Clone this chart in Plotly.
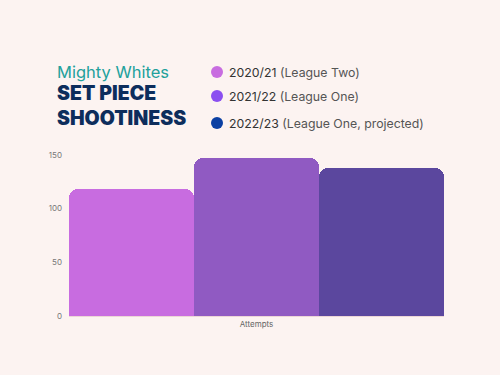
import plotly.graph_objects as go

categories = ["Attempts"]
series_names = ["2020/21 (League Two)", "2021/22 (League One)", "2022/23 (League One, projected)"]
series_values = [[118], [147], [138]]
bar_colors = ["#c86ce0", "#905ac2", "#5b479e"]
legend_colors = ["#c86ce0", "#8b4ff0", "#0b40a3"]
y_ticks = [0, 50, 100, 150]

bg = "#fcf3f1"

fig = go.Figure()
for name, vals, col in zip(series_names, series_values, bar_colors):
    fig.add_trace(go.Bar(x=categories, y=vals, name=name, marker=dict(color=col, line=dict(width=0)),
                         showlegend=False, hoverinfo="skip"))

fig.update_layout(
    width=500, height=375,
    paper_bgcolor=bg, plot_bgcolor=bg,
    margin=dict(l=69, r=56, t=155, b=59),
    barmode="group", bargap=0, bargroupgap=0,
    barcornerradius=9,
    font=dict(family="Inter, Lato, sans-serif", color="#666"),
    xaxis=dict(showgrid=False, tickfont=dict(size=8, color="#666"), ticks="", showline=True,
               linecolor="#ecd6d6", linewidth=1),
    yaxis=dict(range=[0, 150], tickvals=y_ticks, showgrid=True, gridcolor="#ecd9d9", gridwidth=1,
               zeroline=False, tickfont=dict(size=8, color="#777"), ticks="", ticklabelstandoff=6),
)

tx = (55 - 69) / 375
# Title block
fig.add_annotation(xref="paper", yref="paper", x=tx, y=1.0, xanchor="left", yanchor="middle",
                   yshift=83, text="Mighty Whites", showarrow=False,
                   font=dict(family="Inter, Lato, sans-serif", size=16.5, color="#22a19c"))
fig.add_annotation(xref="paper", yref="paper", x=tx, y=1.0, xanchor="left", yanchor="middle",
                   yshift=62, text="SET PIECE", showarrow=False,
                   font=dict(family="Inter, Lato, sans-serif", size=19.5, color="#0d2d5c", weight=900))
fig.add_annotation(xref="paper", yref="paper", x=tx, y=1.0, xanchor="left", yanchor="middle",
                   yshift=37, text="SHOOTINESS", showarrow=False,
                   font=dict(family="Inter, Lato, sans-serif", size=19.5, color="#0d2d5c", weight=900))

# Custom legend
legend_y = [72, 96, 123]
for name, col, py in zip(series_names, legend_colors, legend_y):
    yr, rest = name.split(" ", 1)
    fig.add_shape(type="circle", xref="paper", yref="paper",
                  x0=(211 - 69) / 375, x1=(223 - 69) / 375,
                  y0=(316 - (py + 6)) / 161, y1=(316 - (py - 6)) / 161,
                  fillcolor=col, line=dict(width=0))
    fig.add_annotation(xref="paper", yref="paper", x=(227 - 69) / 375, y=(316 - py) / 161,
                       xanchor="left", yanchor="middle", showarrow=False,
                       text=f"<span style='color:#333'>{yr}</span> <span style='color:#555'>{rest}</span>",
                       font=dict(family="Inter, Lato, sans-serif", size=12.3))

fig.write_html("out.html", config={"displayModeBar": False},
               post_script="document.body.style.margin='0';")
